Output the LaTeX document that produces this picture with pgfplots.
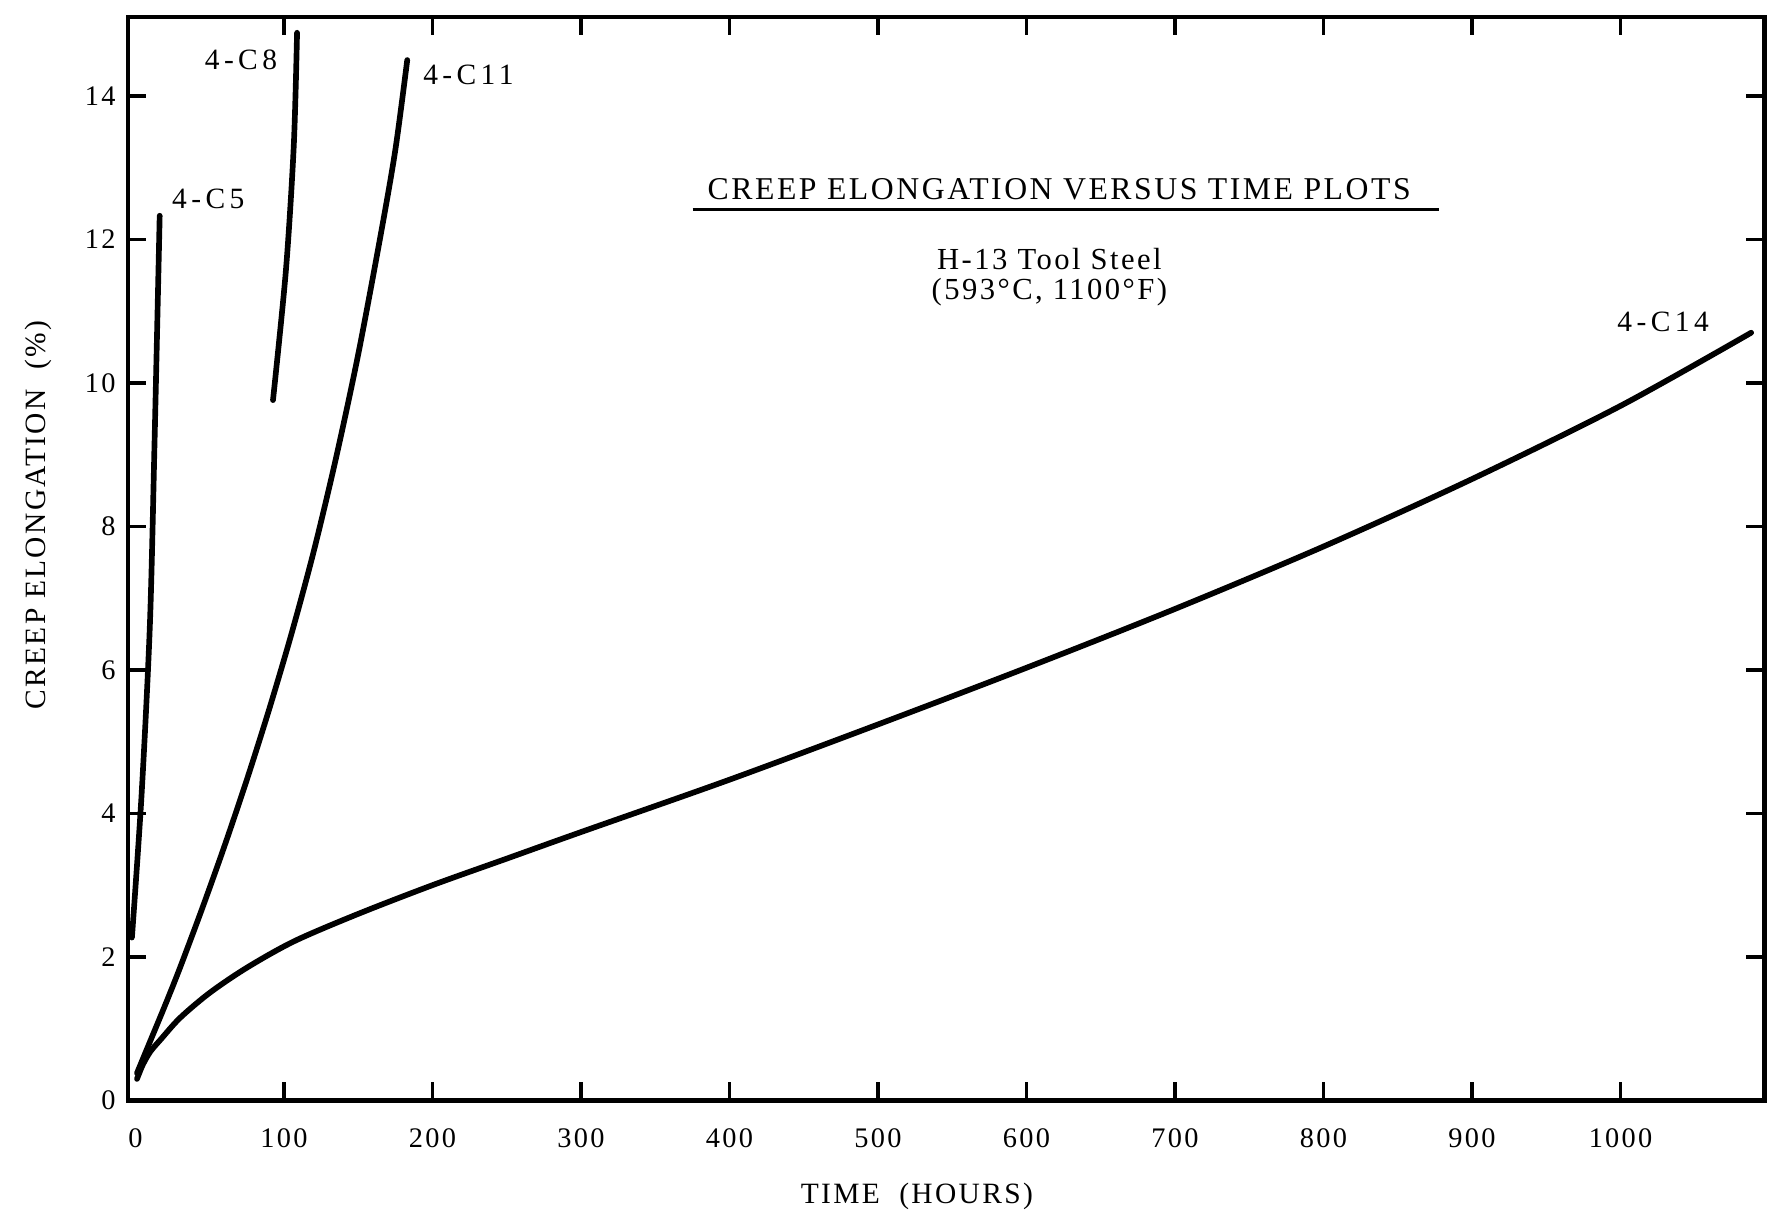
\documentclass[border=0pt]{standalone}
\usepackage{fontspec}
\setmainfont{Liberation Serif}[LetterSpace=8]
\usepackage{pgfplots}
\pgfplotsset{compat=1.18}

\begin{document}
\begin{tikzpicture}
\begin{axis}[
  name=ax,
  scale only axis,
  width=722pt, height=478pt,
  xmin=-5, xmax=1097, ymin=0, ymax=15.1,
  axis line style={line width=2pt},
  every tick/.style={line width=1.6pt, black},
  major tick length=8pt,
  tick align=inside,
  xtick={100,200,...,1000},
  extra x ticks={0},
  extra x tick style={major tick length=0pt},
  ytick={0,2,...,14},
  xticklabel style={font=\fontsize{12.5}{14}\selectfont, yshift=-9pt},
  yticklabel style={font=\fontsize{12.5}{14}\selectfont, xshift=-2pt},
  /pgf/number format/assume math mode=true,
  /pgf/number format/1000 sep={},
  xlabel={TIME\ \ (HOURS)},
  ylabel={CREEP ELONGATION\ \ (\%)},
  xlabel style={at={(axis description cs:0.482,-0.089)}, anchor=center, font=\fontsize{13}{15}\selectfont},
  ylabel style={at={(axis description cs:-0.055,0.54)}, anchor=center, font=\fontsize{13}{15}\selectfont},
  every axis plot post/.append style={black, mark=none, solid, line width=2.5pt, line cap=round, smooth, tension=0.5},
]
% 4-C14
\addplot coordinates {
(1,0.3) (5,0.5) (10,0.68) (17,0.85) (30,1.15) (50,1.5) (75,1.85) (107,2.22)
(150,2.6) (200,3.0) (250,3.37) (300,3.74) (400,4.47) (500,5.24) (600,6.03)
(700,6.85) (800,7.72) (900,8.66) (1000,9.68) (1088,10.70)
};
% 4-C11
\addplot coordinates {
(1,0.38) (10,0.83) (20,1.33) (30,1.85) (45,2.68) (60,3.55) (75,4.47) (90,5.45)
(105,6.5) (120,7.65) (135,8.95) (150,10.4) (165,12.05) (175,13.25) (183,14.5)
};
% 4-C8
\addplot coordinates {
(92.6,9.76) (101.3,11.57) (106.6,13.31) (108.8,14.88)
};
% 4-C5
\addplot coordinates {
(-2.4,2.27) (4.1,4.26) (9.7,6.63) (12.8,9.14) (16.3,12.33)
};

\node[font=\fontsize{13}{15}\selectfont\addfontfeature{LetterSpace=15}] at (rel axis cs:0.069,0.960) {4-C8};
\node[font=\fontsize{13}{15}\selectfont\addfontfeature{LetterSpace=15}] at (rel axis cs:0.208,0.947) {4-C11};
\node[font=\fontsize{13}{15}\selectfont\addfontfeature{LetterSpace=15}] at (rel axis cs:0.049,0.832) {4-C5};
\node[font=\fontsize{13}{15}\selectfont\addfontfeature{LetterSpace=15}] at (rel axis cs:0.938,0.719) {4-C14};

\node[font=\fontsize{14}{16}\selectfont] at (rel axis cs:0.569,0.841) {CREEP ELONGATION VERSUS TIME PLOTS};
\draw[line width=1.3pt] (rel axis cs:0.345,0.822) -- (rel axis cs:0.801,0.822);
\node[font=\fontsize{13.5}{15}\selectfont] at (rel axis cs:0.563,0.777) {H-13 Tool Steel};
\node[font=\fontsize{13.5}{15}\selectfont] at (rel axis cs:0.563,0.746) {(593°C, 1100°F)};
\end{axis}
\path (ax.south west) ++(-56.5pt,-51.5pt) coordinate (bl);
\path (ax.north east) ++(5.5pt,7.5pt) coordinate (tr);
\path (bl) rectangle (tr);
\end{tikzpicture}
\end{document}
